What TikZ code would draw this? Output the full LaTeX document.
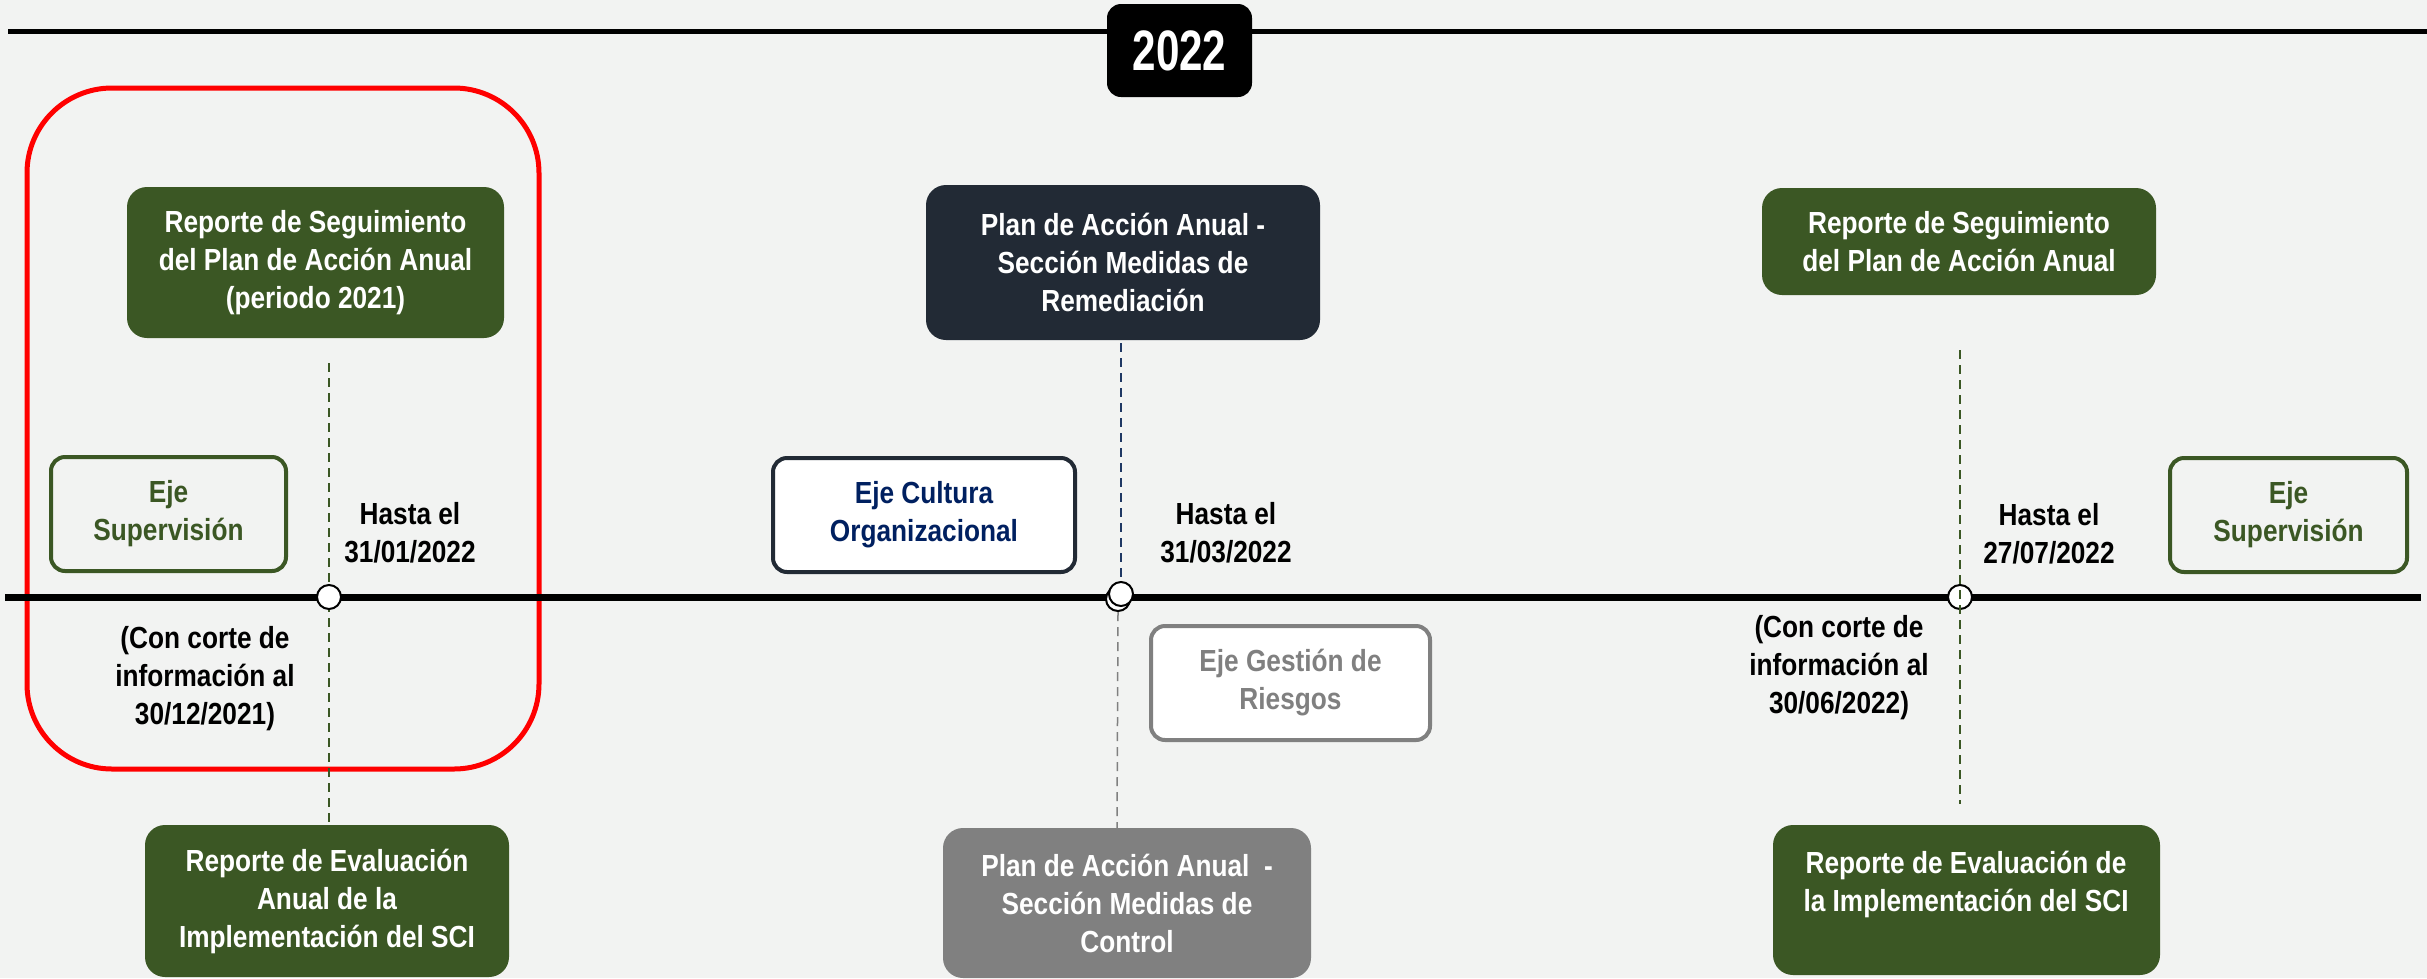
\documentclass[tikz,border=0pt]{standalone}
\usepackage{fontspec}
\setmainfont[FakeStretch=0.86]{Liberation Sans}
\newfontfamily\yearfont[FakeStretch=0.74]{Liberation Sans}
\definecolor{bgc}{HTML}{F2F3F2}
\definecolor{dgreen}{HTML}{3B5724}
\definecolor{navyf}{HTML}{222A35}
\definecolor{navyt}{HTML}{002060}
\definecolor{navyd}{HTML}{1F3864}
\definecolor{grayc}{HTML}{808080}
\begin{document}
\begin{tikzpicture}[x=1pt,y=-1pt,
  txt/.style={font=\bfseries\fontsize{30.5}{38}\selectfont, align=center, inner sep=0pt},
  solidbox/.style={txt, rectangle, rounded corners=20pt, text=white, fill=#1},
  ejebox/.style={txt, rectangle, rounded corners=14pt, line width=4pt, draw=#1, text=#1},
  dashline/.style={draw=#1, line width=1.5pt, dash pattern=on 9pt off 6pt},
  marker/.style={circle, draw=black, line width=2pt, fill=white, minimum size=24pt, inner sep=0pt}
]
\fill[bgc] (0,0) rectangle (2427,978);
\useasboundingbox (0,0) rectangle (2427,978);

% top line and year
\coordinate (tl0) at (8,31);
\coordinate (tl1) at (2427,31);
\draw[line width=5pt] (tl0) -- (tl1);
\node[fill=black, rounded corners=14pt, minimum width=145pt, minimum height=93pt, inner sep=0pt,
  text=white, font=\yearfont\bfseries\fontsize{57}{62}\selectfont] (year) at (1179.5,50.5) {2022};

% red highlight
\node[draw=red, line width=5pt, rounded corners=85pt, minimum width=512pt, minimum height=681pt, inner sep=0pt] (redbox) at (283,428.5) {};

% main timeline
\coordinate (ml0) at (5,597);
\coordinate (ml1) at (2421,597);
\draw[line width=7pt] (ml0) -- (ml1);

% top boxes
\node[solidbox=dgreen, minimum width=377pt, minimum height=151pt] (b1) at (315.5,262.5)
  {Reporte de Seguimiento\\del Plan de Acción Anual\\(periodo 2021)};
\node[solidbox=navyf, minimum width=394pt, minimum height=155pt] (b2) at (1123,262.5)
  {Plan de Acción Anual -\\Sección Medidas de\\Remediación};
\node[solidbox=dgreen, minimum width=394pt, minimum height=107pt] (b3) at (1959,241.5)
  {Reporte de Seguimiento\\del Plan de Acción Anual};

% bottom boxes
\node[solidbox=dgreen, minimum width=364pt, minimum height=152pt] (b4) at (327,901)
  {Reporte de Evaluación\\Anual de la\\Implementación del SCI};
\node[solidbox=grayc, minimum width=368pt, minimum height=150pt] (b5) at (1127,903)
  {Plan de Acción Anual \ -\\Sección Medidas de\\Control};
\node[solidbox=dgreen, minimum width=387pt, minimum height=150pt] (b6) at (1966.5,900) {};
\node[txt, text=white] (b6t) at (1966,884) {Reporte de Evaluación de\\la Implementación del SCI};

% eje boxes
\node[ejebox=dgreen, minimum width=235pt, minimum height=114pt] (s1) at (168.5,514) {Eje\\Supervisión};
\node[ejebox=navyf, fill=white, text=navyt, minimum width=302pt, minimum height=114pt] (c1) at (924,515) {Eje Cultura\\Organizacional};
\node[ejebox=grayc, fill=white, minimum width=279pt, minimum height=114pt] (g1) at (1290.5,683) {Eje Gestión de\\Riesgos};
\node[ejebox=dgreen, minimum width=237pt, minimum height=114pt] (s2) at (2288.5,515) {Eje\\Supervisión};

% dates
\node[txt] (h1) at (410,532.5) {Hasta el\\31/01/2022};
\node[txt] (h2) at (1226,532.5) {Hasta el\\31/03/2022};
\node[txt] (h3) at (2049,534) {Hasta el\\27/07/2022};
\node[txt] (n1) at (205,679) {(Con corte de\\información al\\30/12/2021)};
\node[txt] (n2) at (1839,668) {(Con corte de\\información al\\30/06/2022)};

% dashed connectors and markers
\coordinate (d1t) at (329,363);
\coordinate (d1b) at (329,825);
\draw[dashline=dgreen] (d1t) -- (d1b);
\node[marker] (m1) at (329,597) {};

\coordinate (d2t) at (1121,343);
\coordinate (d2b) at (1117,828);
\node[marker] (m2b) at (1118,599) {};
\node[marker] (m2) at (1121,594) {};
\draw[dashline=navyd] (d2t) -- (m2.north);
\draw[dashline=grayc] (m2b.south) -- (d2b);

\coordinate (d3t) at (1960,350);
\coordinate (d3b) at (1960,804);
\node[marker] (m3) at (1960,597) {};
\draw[dashline=dgreen] (d3t) -- (d3b);
\end{tikzpicture}
\end{document}
